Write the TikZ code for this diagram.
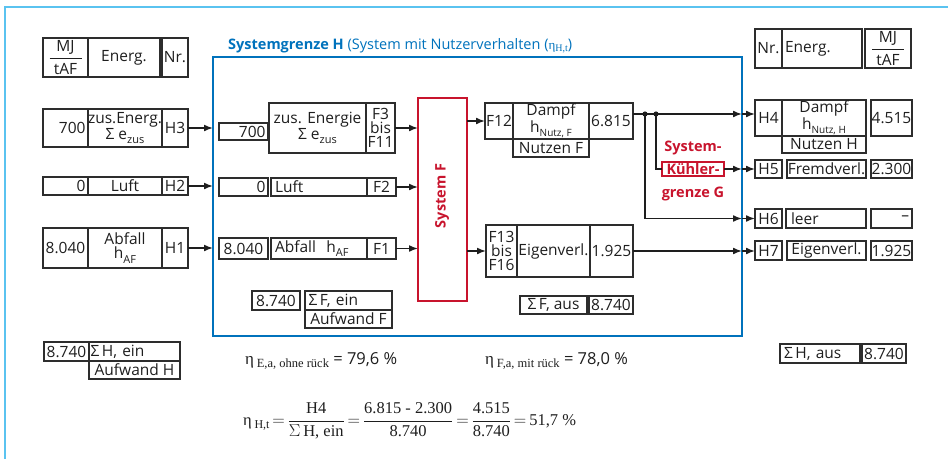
\documentclass[tikz,border=0pt]{standalone}
\usepackage{fontspec}
\setsansfont{Open Sans}
\newfontfamily\lserif{Liberation Serif}
\usetikzlibrary{arrows.meta,calc}
\definecolor{sysblue}{RGB}{0,114,188}
\definecolor{lightblue}{RGB}{90,195,240}
\definecolor{sysred}{RGB}{200,20,45}
\definecolor{boxc}{RGB}{45,45,45}
\definecolor{txtc}{RGB}{30,30,30}
\newcommand{\fs}{\sffamily\fontsize{15.5}{14}\selectfont}
\newcommand{\lowsub}[2][11]{\raisebox{-0.28em}{\fontsize{#1}{#1}\selectfont #2}}
\newcommand{\bxn}[7][]{\node[bx,minimum width={(#5)-(#3)},minimum height={(#6)-(#4)},#1] (#2) at ({((#3)+(#5))/2},{((#4)+(#6))/2}) {#7};}
\newcommand{\mjfrac}{$\displaystyle{\mbox{MJ}\above1.2pt\hbox to 32pt{\hss tAF\hss}}$}
\begin{document}
\begin{tikzpicture}[x=1pt,y=-1pt,
  bx/.style={draw=boxc,line width=1.2pt,inner sep=0pt,outer sep=0pt,text=txtc,font=\fs,align=center},
  thk/.style={line width=1.9pt},
  ln/.style={line width=1.6pt,draw=txtc},
  arr/.style={line width=1.6pt,draw=txtc,-{Latex[length=9pt,width=7pt]}},
  redtxt/.style={text=sysred,font=\sffamily\bfseries\fontsize{14.5}{15}\selectfont,inner sep=0pt}]
\useasboundingbox (0,0) rectangle (948,459);
% outer frame
\draw[lightblue,line width=1.5pt] (948,7) -- (5,7) -- (5,459);
% system boundary H
\node[draw=sysblue,line width=2.2pt,minimum width=529pt,minimum height=279pt,inner sep=0pt,outer sep=0pt] (sysH) at (477.5,196.5) {};
\node[anchor=base west,text=sysblue,font=\sffamily\fontsize{14.5}{15}\selectfont,inner sep=0pt] (title) at (228,49)
  {\textbf{Systemgrenze H} (System mit Nutzerverhalten ({\lserif\fontsize{13}{13}\selectfont η\raisebox{-2.5pt}{\fontsize{10}{10}\selectfont H,t}})};
% system F
\node[draw=sysred,line width=2.5pt,minimum width=49pt,minimum height=203pt,inner sep=0pt,outer sep=0pt] (sysF) at (442.5,199.5) {};
\node[redtxt,rotate=90] (sysFt) at (442,196) {System F};
% left header
\bxn{hMJ}{43}{38}{88}{77}{\mjfrac}
\bxn{hEn}{88}{38}{160}{77}{Energ.}
\bxn{hNr}{162}{38}{188}{77}{Nr.}
% left rows
\bxn[text width=40pt,align=right]{o700}{43}{109}{88}{147}{700}
\bxn{oZus}{88}{109}{162}{147}{zus.Energ.\\Σ e\lowsub{zus}}
\bxn{oH3}{162}{109}{188}{147}{H3}
\bxn[text width=40pt,align=right]{o0}{43}{177}{88}{195}{0}
\bxn{oLuft}{88}{177}{162}{195}{Luft}
\bxn{oH2}{162}{177}{188}{195}{H2}
\bxn{o8040}{43}{228}{88}{268}{8.040}
\bxn{oAbf}{88}{228}{162}{268}{Abfall\\h\lowsub{AF}}
\bxn{oH1}{162}{228}{188}{268}{H1}
% inner left
\bxn[text width=44pt,align=right]{i700}{219}{123}{268}{140}{700}
\bxn{iZus}{269}{103}{366}{153}{zus. Energie\\Σ e\lowsub{zus}}
\bxn{iF3}{366}{103}{395}{153}{F3\\bis\\F11}
\bxn[text width=44pt,align=right]{i0}{219}{178}{268}{196}{0}
\bxn[text width=88pt,align=left]{iLuft}{271}{178}{367}{196}{Luft}
\bxn{iF2}{367}{178}{396}{196}{F2}
\bxn{i8040}{219}{238}{268}{259}{8.040}
\bxn[text width=88pt,align=left]{iAbf}{271}{238}{367}{259}{Abfall\ \ h\lowsub{AF}}
\bxn{iF1}{367}{238}{396}{259}{F1}
\bxn{sFe1}{252}{291}{300}{310}{8.740}
\bxn[text width=80pt,align=left]{sFe2}{305}{291}{392}{310}{Σ\,F, ein}
\bxn[thk]{sFe3}{305}{310}{392}{328}{Aufwand F}
% inner right
\bxn{iF12}{485}{103}{513}{139}{F12}
\bxn{iDampf}{513}{103}{589}{139}{Dampf\\h\lowsub[10]{Nutz, F}}
\bxn{i6815}{589}{103}{633}{139}{6.815}
\bxn[thk]{iNutzF}{513}{139}{589}{157}{Nutzen F}
\bxn{iF13}{486}{225}{517}{277}{F13\\bis\\F16}
\bxn{iEig}{517}{225}{590}{277}{Eigenverl.}
\bxn{i1925}{590}{225}{633}{277}{1.925}
\bxn{sFa1}{520}{296}{587}{314}{Σ\,F, aus}
\bxn{sFa2}{589}{296}{633}{314}{8.740}
% right header
\bxn{rNr}{755}{29}{782}{68}{Nr.}
\bxn[text width=74pt,align=left]{rEn}{782}{29}{862}{68}{Energ.}
\bxn{rMJ}{865}{29}{911}{68}{\mjfrac}
% right rows
\bxn{rH4}{755}{100}{782}{136}{H4}
\bxn{rDampf}{782}{100}{866}{136}{Dampf\\h\lowsub[10]{Nutz, H}}
\bxn[thk]{rNutzH}{782}{136}{866}{153}{Nutzen H}
\bxn{r4515}{871}{100}{912}{136}{4.515}
\bxn{rH5}{755}{160}{782}{178}{H5}
\bxn{rFrem}{787}{160}{866}{178}{Fremdverl.}
\bxn{r2300}{871}{160}{912}{178}{2.300}
\bxn{rH6}{755}{209}{782}{228}{H6}
\bxn[text width=70pt,align=left]{rLeer}{786}{209}{866}{228}{leer}
\bxn[text width=35pt,align=right]{rDash}{871}{209}{912}{228}{–}
\bxn{rH7}{755}{241}{782}{260}{H7}
\bxn{rEig}{787}{241}{866}{260}{Eigenverl.}
\bxn{r1925}{871}{241}{912}{260}{1.925}
\bxn[text width=72pt,align=left]{sHa1}{780}{344}{860}{363}{Σ\,H, aus}
\bxn{sHa2}{862}{344}{906}{363}{8.740}
% left bottom
\bxn[thk]{sHe1}{44}{342}{89}{361}{8.740}
\bxn[thk,text width=88pt,align=left]{sHe2}{89}{342}{180}{361}{Σ\,H, ein}
\bxn[thk]{sHe3}{89}{361}{180}{379}{Aufwand H}
% Kuehler boundary
\node[draw=sysred,line width=2pt,minimum width=62pt,minimum height=14pt,outer sep=0pt,redtxt] (kuehl) at (693,169) {Kühler-};
\node[redtxt] (kA) at (693,148) {System-};
\node[redtxt] (kB) at (693,194) {grenze G};
% connectors left
\draw[arr] (oH3.east) -- (oH3.east -| sysH.west);
\draw[arr] (oH2.east) -- (oH2.east -| sysH.west);
\draw[arr] (oH1.east) -- (oH1.east -| sysH.west);
\draw[arr] (iF3.east) -- (iF3.east -| sysF.west);
\draw[arr] (iF2.east) -- (iF2.east -| sysF.west);
\draw[arr] (iF1.east) -- (iF1.east -| sysF.west);
\draw[arr] (sysF.east |- iF12.west) -- (iF12.west);
\draw[arr] (sysF.east |- iF13.west) -- (iF13.west);
% connectors right
\coordinate (jA) at (645,114);
\coordinate (jB) at (656,114);
\draw[ln] (i6815.east |- jA) -- (jB);
\draw[arr] (jB) -- (jB -| sysH.east);
\draw[arr] (jB -| sysH.east) -- (jB -| rH4.west);
\draw[ln] (jB) |- (kuehl.west);
\draw[arr] (kuehl.east) -- (kuehl.east -| sysH.east);
\draw[arr] (kuehl.east -| sysH.east) -- (rH5.west);
\draw[arr] (jA) |- (rH6.west -| sysH.east);
\draw[arr] (rH6.west -| sysH.east) -- (rH6.west);
\draw[arr] (i1925.east) -- (i1925.east -| sysH.east);
\draw[arr] (i1925.east -| sysH.east) -- (i1925.east -| rH7.west);
\fill[txtc] (jA) circle (2.6pt);
\fill[txtc] (jB) circle (2.6pt);
% formulas
\node[anchor=base west,inner sep=0pt,text=txtc,font=\sffamily\fontsize{16.5}{17}\selectfont] (eta1) at (245,364)
  {{\lserif\fontsize{17}{17}\selectfont η}\,{\lserif\fontsize{12.5}{13}\selectfont\raisebox{-3pt}{E,a, ohne rück}} = 79,6 \%};
\node[anchor=base west,inner sep=0pt,text=txtc,font=\sffamily\fontsize{16.5}{17}\selectfont] (eta2) at (485,364)
  {{\lserif\fontsize{17}{17}\selectfont η}\,{\lserif\fontsize{12.5}{13}\selectfont\raisebox{-3pt}{F,a, mit rück}} = 78,0 \%};
\node[anchor=west,inner sep=0pt,text=txtc,font=\lserif\fontsize{16.5}{16.5}\selectfont] (eta3) at (243,421)
  {η\,\raisebox{-3pt}{\fontsize{12}{12}\selectfont H,t}$\,{=}\,\displaystyle\frac{\mbox{H4}}{\mbox{$\Sigma$\,H, ein}}\,{=}\,\frac{\mbox{6.815 - 2.300}}{\mbox{8.740}}\,{=}\,\frac{\mbox{4.515}}{\mbox{8.740}}\,{=}\,\mbox{51,7 \%}$};
\end{tikzpicture}
\end{document}
